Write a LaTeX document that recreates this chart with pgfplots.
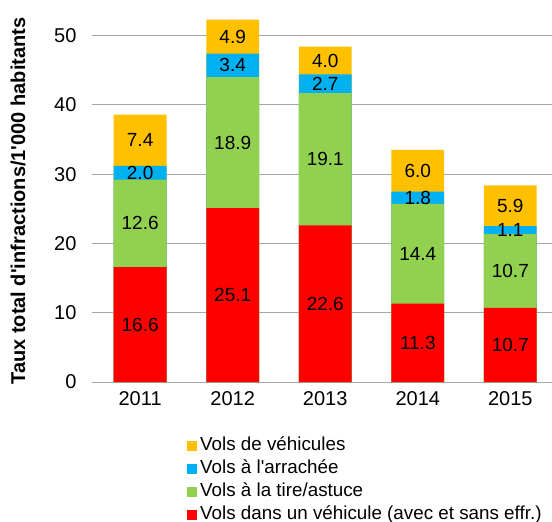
\documentclass[border=0pt]{standalone}
\usepackage{pgfplots}
\pgfplotsset{compat=1.18}
\usepackage{pgfplotstable}
\usepackage{fontspec}
\setmainfont{Liberation Sans}
\definecolor{cred}{HTML}{FF0000}
\definecolor{cgreen}{HTML}{92D050}
\definecolor{cblue}{HTML}{00B0F0}
\definecolor{corange}{HTML}{FFC000}
\definecolor{gridgray}{HTML}{A6A6A6}
\pgfplotstableread{
x r g b o
0 16.6 12.6 2.0 7.4
1 25.1 18.9 3.4 4.9
2 22.6 19.1 2.7 4.0
3 11.3 14.4 1.8 6.0
4 10.7 10.7 1.1 5.9
}\data
\pgfplotsset{
  sq/.style={legend image code/.code={\fill[##1] (0bp,-5bp) rectangle (10bp,5bp);}},
  barsty/.style={ybar, bar width=0.57, bar shift=0pt, draw=none, fill=#1, sq},
  lab/.style={draw=none, mark=none, forget plot, nodes near coords={\pgfmathprintnumber[fixed,fixed zerofill,precision=1]{\pgfplotspointmeta}}, point meta=explicit,
    every node near coord/.append style={anchor=center, text=black, font=\fontsize{19bp}{22bp}\selectfont}},
}
\begin{document}
\begin{tikzpicture}
\begin{axis}[
  at={(0,0)}, anchor=south west,
  scale only axis, width=460bp, height=381bp,
  xmin=-0.52, xmax=4.45, ymin=0, ymax=55,
  ytick={0,10,...,50}, xtick={0,...,4}, xticklabels={2011,2012,2013,2014,2015},
  axis lines*=left,
  y axis line style={draw=none},
  x axis line style={draw=gridgray, line width=0.9bp},
  major tick length=0pt,
  ymajorgrids, grid style={draw=gridgray, line width=0.9bp},
  /pgf/number format/assume math mode=true,
  tick label style={font=\fontsize{20bp}{24bp}\selectfont, text=black},
  yticklabel style={xshift=-12bp},
  xticklabel style={yshift=-6bp},
  every axis y label/.style={at={(axis description cs:0,0.475)}, rotate=90, anchor=center, yshift=74bp, font=\bfseries\fontsize{20bp}{24bp}\selectfont},
  ylabel={Taux total d\textquotesingle infractions/1\textquotesingle 000 habitants},
  legend style={draw=none, fill=none, at={(0.2065,-0.144)}, anchor=north west, inner sep=0pt,
    font=\fontsize{18.8bp}{22bp}\selectfont, row sep=6bp, column sep=3bp,
    nodes={inner sep=0pt, text height=13bp, text depth=4bp}},
  legend cell align=left,
]
\addplot[barsty=corange] table[x=x, y expr=\thisrow{r}+\thisrow{g}+\thisrow{b}+\thisrow{o}] {\data};
\addlegendentry{Vols de véhicules}
\addplot[barsty=cblue] table[x=x, y expr=\thisrow{r}+\thisrow{g}+\thisrow{b}] {\data};
\addlegendentry{Vols à l\textquotesingle arrachée}
\addplot[barsty=cgreen] table[x=x, y expr=\thisrow{r}+\thisrow{g}] {\data};
\addlegendentry{Vols à la tire/astuce}
\addplot[barsty=cred] table[x=x, y=r] {\data};
\addlegendentry{Vols dans un véhicule (avec et sans effr.)}
\addplot[lab] table[x=x, y expr=\thisrow{r}/2, meta=r] {\data};
\addplot[lab] table[x=x, y expr=\thisrow{r}+\thisrow{g}/2, meta=g] {\data};
\addplot[lab] table[x=x, y expr=\thisrow{r}+\thisrow{g}+\thisrow{b}/2, meta=b] {\data};
\addplot[lab] table[x=x, y expr=\thisrow{r}+\thisrow{g}+\thisrow{b}+\thisrow{o}/2, meta=o] {\data};
\end{axis}
\pgfresetboundingbox
\path (-92bp,-140bp) rectangle (460bp,382bp);
\end{tikzpicture}
\end{document}
